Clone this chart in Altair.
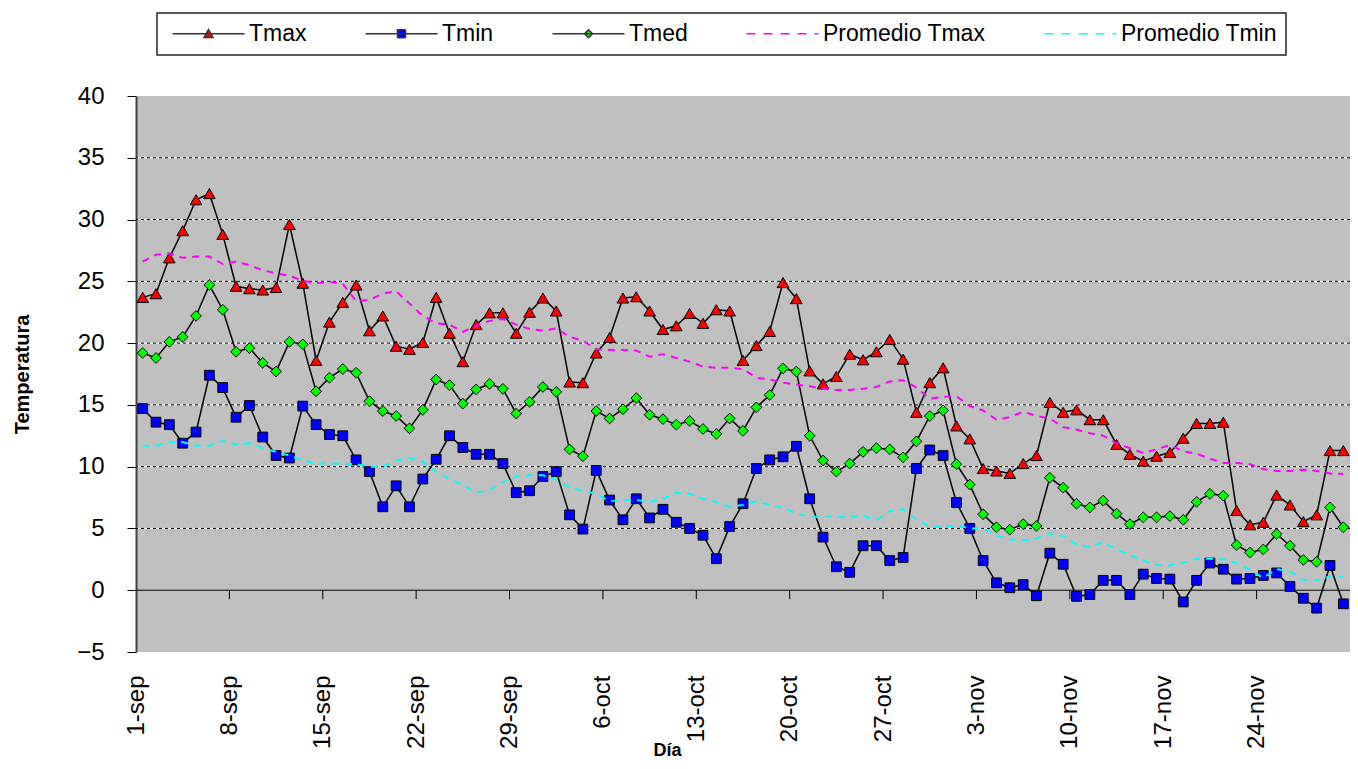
import json
import altair as alt
import pandas as pd

FONT = "Liberation Sans"

# ---- data (1-sep .. 30-nov, one value per day) ----
etiquetas = ["1-sep", "8-sep", "15-sep", "22-sep", "29-sep", "6-oct", "13-oct",
             "20-oct", "27-oct", "3-nov", "10-nov", "17-nov", "24-nov"]

series = ["Tmax", "Tmin", "Tmed", "Promedio Tmax", "Promedio Tmin"]

tmax = [23.7, 24.0, 26.9, 29.1, 31.6, 32.1, 28.8, 24.6, 24.4, 24.3,
        24.5, 29.6, 24.85, 18.6, 21.7, 23.3, 24.7, 21.0, 22.2, 19.75,
        19.5, 20.05, 23.7, 20.8, 18.5, 21.5, 22.45, 22.45, 20.8, 22.5,
        23.65, 22.6, 16.85, 16.8, 19.2, 20.45, 23.65, 23.75, 22.6, 21.1,
        21.4, 22.4, 21.6, 22.7, 22.6, 18.6, 19.8, 20.95, 24.9, 23.6,
        17.75, 16.7, 17.3, 19.1, 18.65, 19.3, 20.3, 18.7, 14.4, 16.8,
        18.0, 13.3, 12.25, 9.85, 9.65, 9.45, 10.25, 10.9, 15.2, 14.4,
        14.6, 13.8, 13.8, 11.8, 11.0, 10.45, 10.85, 11.15, 12.3, 13.5,
        13.5, 13.6, 6.45, 5.3, 5.5, 7.7, 6.9, 5.55, 6.1, 11.3,
        11.3]

tmin = [14.7, 13.6, 13.4, 11.9, 12.8, 17.4, 16.4, 14.0, 14.95, 12.4,
        10.9, 10.7, 14.9, 13.4, 12.6, 12.5, 10.55, 9.6, 6.75, 8.45,
        6.75, 9.0, 10.6, 12.5, 11.55, 11.0, 11.0, 10.25, 7.9, 8.05,
        9.2, 9.6, 6.1, 4.95, 9.7, 7.3, 5.7, 7.4, 5.85, 6.55,
        5.5, 5.0, 4.45, 2.55, 5.15, 7.0, 9.85, 10.55, 10.8, 11.65,
        7.4, 4.3, 1.9, 1.45, 3.6, 3.6, 2.4, 2.65, 9.85, 11.35,
        10.9, 7.1, 5.0, 2.4, 0.6, 0.2, 0.45, -0.45, 3.0, 2.1,
        -0.5, -0.35, 0.8, 0.8, -0.35, 1.3, 0.95, 0.9, -0.95, 0.8,
        2.2, 1.7, 0.9, 0.95, 1.2, 1.4, 0.3, -0.65, -1.45, 2.0,
        -1.1]

tmed = [19.2, 18.8, 20.1, 20.5, 22.2, 24.7, 22.7, 19.3, 19.6, 18.4,
        17.7, 20.1, 19.9, 16.1, 17.2, 17.9, 17.6, 15.3, 14.5, 14.1,
        13.1, 14.6, 17.05, 16.6, 15.1, 16.25, 16.7, 16.3, 14.3, 15.25,
        16.45, 16.05, 11.4, 10.85, 14.5, 13.9, 14.65, 15.55, 14.2, 13.85,
        13.4, 13.7, 13.05, 12.65, 13.9, 12.9, 14.8, 15.8, 17.95, 17.7,
        12.5, 10.5, 9.6, 10.25, 11.2, 11.5, 11.4, 10.75, 12.05, 14.1,
        14.55, 10.2, 8.55, 6.15, 5.1, 4.9, 5.35, 5.2, 9.1, 8.3,
        7.0, 6.7, 7.25, 6.2, 5.35, 5.9, 5.9, 6.0, 5.7, 7.15,
        7.8, 7.65, 3.65, 3.05, 3.3, 4.55, 3.6, 2.45, 2.3, 6.7,
        5.1]

prom_tmax = [26.6, 27.15, 27.25, 26.9, 27.0, 27.0, 26.4, 26.6, 26.3, 25.9,
             25.65, 25.45, 25.05, 24.85, 24.95, 24.8, 23.4, 23.5, 24.0, 24.2,
             23.2, 22.2, 21.6, 21.5, 20.9, 21.4, 21.8, 21.95, 21.5, 21.15,
             21.0, 21.2, 20.5, 20.2, 19.5, 19.45, 19.45, 19.4, 18.9, 19.1,
             18.8, 18.5, 18.1, 18.0, 18.0, 17.9, 17.2, 17.05, 16.8, 16.65,
             16.5, 16.3, 16.2, 16.2, 16.3, 16.45, 16.9, 17.0, 16.4, 15.5,
             15.65, 15.7, 14.9, 14.55, 13.8, 14.0, 14.45, 14.1, 13.9, 13.2,
             13.0, 12.7, 12.5, 11.9, 11.5, 11.1, 11.4, 11.75, 11.25, 11.05,
             10.65, 10.3, 10.3, 10.2, 9.8, 9.65, 9.65, 9.75, 9.65, 9.45,
             9.4]

prom_tmin = [11.7, 11.7, 12.0, 12.0, 11.7, 11.7, 12.1, 11.8, 11.9, 11.5,
             11.2, 10.9, 10.5, 10.25, 10.25, 10.25, 10.2, 10.0, 10.0, 10.5,
             10.7, 10.4, 9.6, 9.0, 8.5, 7.9, 8.1, 8.75, 9.2, 9.3,
             9.3, 8.95, 8.3, 8.05, 7.8, 7.2, 7.3, 7.3, 7.15, 7.4,
             7.9, 7.8, 7.4, 7.15, 6.75, 6.9, 7.2, 6.9, 6.7, 6.2,
             5.95, 5.95, 5.95, 5.95, 6.0, 5.7, 6.4, 6.55, 5.7, 5.15,
             5.15, 5.25, 5.0, 5.0, 4.45, 4.1, 4.05, 4.2, 4.6, 4.4,
             3.7, 3.5, 3.9, 3.3, 2.85, 2.4, 2.05, 2.0, 2.2, 2.55,
             2.55, 2.5, 2.2, 1.65, 1.0, 1.7, 1.55, 0.8, 0.8, 1.1,
             1.1]

valores_y = [-5, 0, 5, 10, 15, 20, 25, 30, 35, 40]
rejilla = [5, 10, 15, 20, 25, 30, 35]

# ---- long table ----
rows = []
for nombre, vals in zip(series, [tmax, tmin, tmed, prom_tmax, prom_tmin]):
    for i, v in enumerate(vals):
        rows.append({"dia": i + 0.5, "serie": nombre, "valor": v})
df = pd.DataFrame(rows)
n_dias = len(tmax)

ticks_x = [7 * k for k in range(len(etiquetas))]
label_expr = json.dumps(etiquetas) + "[round(datum.value / 7)]"

x_scale = alt.Scale(domain=[0, n_dias], nice=False, zero=False)
y_scale = alt.Scale(domain=[-5, 40], nice=False, zero=False)

x_enc = alt.X(
    "dia:Q", scale=x_scale,
    axis=alt.Axis(values=ticks_x, labelExpr=label_expr, labelAngle=-90,
                  labelFont=FONT, labelFontSize=24, labelColor="black",
                  labelPadding=23, labelFlush=False, labelOverlap=False,
                  ticks=False, tickSize=0, domain=False, grid=False,
                  title="Día", titleFont=FONT, titleFontSize=18,
                  titleFontWeight="bold", titleColor="black",
                  titleX=531, titleY=103, titleBaseline="alphabetic"),
)
y_enc = alt.Y(
    "valor:Q", scale=y_scale,
    axis=alt.Axis(values=valores_y, labelFont=FONT, labelFontSize=24,
                  labelColor="black", labelPadding=23, labelFlush=False,
                  tickSize=9, tickColor="black", tickWidth=1,
                  domainColor="#404040", domainWidth=2, grid=False,
                  title="Temperatura", titleFont=FONT, titleFontSize=20,
                  titleFontWeight="bold", titleColor="black",
                  titleX=-108, titleY=278, titleAngle=-90,
                  titleBaseline="alphabetic"),
)

base = alt.Chart(df)

# grid lines (white under black dashes, as in the reference)
grid_df = pd.DataFrame({"valor": rejilla})
grid_white = alt.Chart(grid_df).mark_rule(color="white", strokeWidth=1).encode(y=y_enc)
grid_black = alt.Chart(grid_df).mark_rule(color="black", strokeWidth=1,
                                          strokeDash=[3, 3]).encode(y=y_enc)

# category axis crossing at zero with tick marks
zero_line = alt.Chart(pd.DataFrame({"valor": [0]})).mark_rule(
    color="black", strokeWidth=1).encode(y=y_enc)
ticks_df = pd.DataFrame({"dia": ticks_x[1:]})
zero_ticks = alt.Chart(ticks_df).mark_rule(color="black", strokeWidth=1).encode(
    x=x_enc, y=alt.Y(datum=0), y2=alt.Y2(datum=-0.73))

def linea(nombre):
    return base.transform_filter(alt.datum.serie == nombre).mark_line(
        color="black", strokeWidth=1.5).encode(x=x_enc, y=y_enc)

def marcador(nombre, forma, relleno, tam):
    return base.transform_filter(alt.datum.serie == nombre).mark_point(
        shape=forma, filled=True, fill=relleno, stroke="black",
        strokeWidth=1, size=tam, opacity=1).encode(x=x_enc, y=y_enc)

def promedio(nombre, color):
    return base.transform_filter(alt.datum.serie == nombre).mark_line(
        color=color, strokeWidth=2, strokeDash=[7, 6]).encode(x=x_enc, y=y_enc)

# legend-only layer (no rows), symbols = line + marker drawn as custom paths
TRI = "M-1,0H13.4M6.2,-0.85L7.1,0.75L5.3,0.75Z"
SQ = "M-1,0H13.4M5.4,-0.8H7V0.8H5.4Z"
DIA = "M-1,0H13.4M6.2,-0.8L7,0L6.2,0.8L5.4,0Z"
LIN = "M-1,0H13.4"

leyenda = base.transform_filter("false").mark_point(
    filled=True, opacity=1, strokeWidth=1.5).encode(
    x=x_enc, y=y_enc,
    shape=alt.Shape("serie:N", title=None,
                    scale=alt.Scale(domain=series, range=[TRI, SQ, DIA, LIN, LIN])),
    fill=alt.Fill("serie:N", title=None,
                  scale=alt.Scale(domain=series,
                                  range=["#ff0000", "#0000ff", "#00ff00",
                                         "transparent", "transparent"])),
    stroke=alt.Stroke("serie:N", title=None,
                      scale=alt.Scale(domain=series,
                                      range=["#333333", "#333333", "#333333",
                                             "#ff00ff", "#00ffff"])),
    strokeDash=alt.StrokeDash("serie:N", title=None,
                              scale=alt.Scale(domain=series,
                                              range=[[1, 0], [1, 0], [1, 0],
                                                     [9, 8], [9, 8]])),
)

chart = alt.layer(
    grid_white, grid_black, zero_line, zero_ticks,
    linea("Tmax"), marcador("Tmax", "triangle-up", "#ff0000", 135),
    linea("Tmin"), marcador("Tmin", "square", "#0000ff", 95),
    linea("Tmed"), marcador("Tmed", "diamond", "#00ff00", 115),
    promedio("Promedio Tmax", "#ff00ff"),
    promedio("Promedio Tmin", "#00ffff"),
    leyenda,
).properties(
    width=1214, height=556,
    padding={"left": 128, "top": 88, "right": 0, "bottom": 109},
    autosize=alt.AutoSizeParams(type="none"),
    background="white",
).configure(
    font=FONT,
).configure_view(
    fill="#c0c0c0", stroke=None,
).configure_legend(
    orient="none", legendX=21, legendY=-83, direction="horizontal",
    columns=5, padding=9, strokeColor="#222222", strokeWidth=1.5,
    fillColor="white", labelFont=FONT, labelFontSize=23,
    labelColor="black", labelOffset=60, labelLimit=400,
    columnPadding=52, symbolSize=100, symbolStrokeWidth=1.5,
)

chart.save("out.html", embed_options={"renderer": "svg", "actions": False})
